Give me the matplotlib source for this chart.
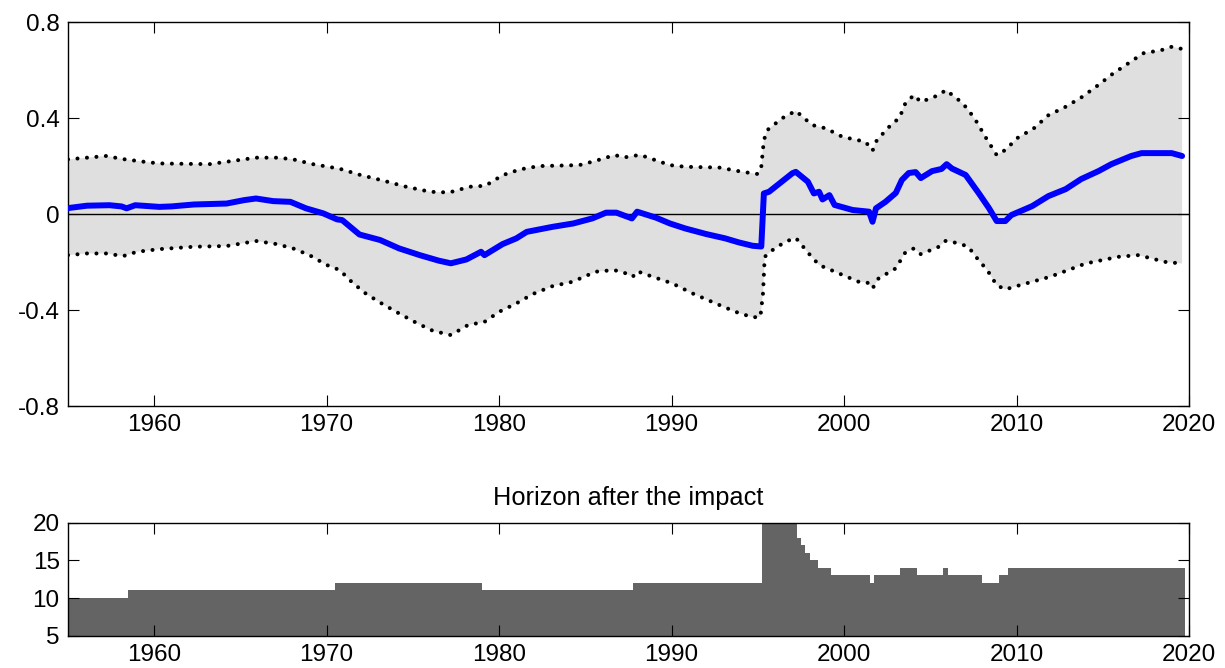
import matplotlib
matplotlib.use("Agg")
import matplotlib.pyplot as plt
import numpy as np

plt.rcParams["font.family"] = ["Liberation Sans", "DejaVu Sans"]
plt.rcParams["axes.unicode_minus"] = False

# ---- top panel: median response and band (year, value) ----
med_x = [1955.0, 1956.1, 1957.4, 1958.1, 1958.4, 1958.9, 1960.3, 1961.0, 1962.3, 1964.2,
         1965.2, 1965.9, 1966.9, 1967.9, 1968.8, 1969.8, 1970.6, 1970.9, 1971.9, 1973.1,
         1974.2, 1975.4, 1976.5, 1977.2, 1978.1, 1978.95, 1979.15, 1980.2, 1981.0, 1981.6,
         1983.1, 1984.3, 1985.4, 1986.2, 1986.8, 1987.7, 1988.0, 1989.1, 1989.9, 1990.8,
         1992.0, 1993.1, 1993.9, 1994.7, 1995.2, 1995.35, 1995.65, 1997.0, 1997.2, 1997.9,
         1998.25, 1998.55, 1998.75, 1999.15, 1999.45, 2000.5, 2001.45, 2001.65, 2001.85, 2002.4,
         2003.0, 2003.35, 2003.75, 2004.15, 2004.45, 2005.1, 2005.65, 2005.95, 2006.25, 2007.05,
         2007.8, 2008.4, 2008.85, 2009.35, 2009.7, 2010.9, 2011.85, 2012.85, 2013.75, 2014.75,
         2015.5, 2016.65, 2017.25, 2018.25, 2019.0, 2019.6]
med_y = [0.025, 0.035, 0.037, 0.032, 0.024, 0.037, 0.030, 0.032, 0.040, 0.044,
         0.058, 0.065, 0.054, 0.051, 0.024, 0.003, -0.022, -0.025, -0.085, -0.108,
         -0.143, -0.171, -0.194, -0.205, -0.189, -0.157, -0.171, -0.125, -0.101, -0.074,
         -0.053, -0.039, -0.018, 0.006, 0.006, -0.018, 0.010, -0.015, -0.039, -0.060,
         -0.083, -0.101, -0.118, -0.132, -0.135, 0.086, 0.093, 0.170, 0.176, 0.135,
         0.086, 0.093, 0.061, 0.079, 0.038, 0.017, 0.010, -0.032, 0.024, 0.051,
         0.088, 0.142, 0.171, 0.175, 0.150, 0.179, 0.188, 0.208, 0.190, 0.163,
         0.088, 0.025, -0.029, -0.029, -0.004, 0.033, 0.075, 0.104, 0.146, 0.179,
         0.208, 0.242, 0.254, 0.254, 0.254, 0.242]

up_x = [1955.0, 1957.2, 1958.2, 1959.4, 1960.3, 1963.2, 1964.6, 1965.9, 1967.1, 1968.0,
        1969.2, 1970.75, 1971.9, 1973.3, 1974.6, 1976.0, 1977.1, 1978.3, 1979.2, 1980.2,
        1981.2, 1982.3, 1984.65, 1985.6, 1986.7, 1987.25, 1987.8, 1988.2, 1989.9, 1990.8,
        1992.75, 1994.1, 1995.0, 1995.2, 1995.35, 1995.55, 1996.4, 1997.2, 1998.15, 1998.95,
        1999.9, 2001.25, 2001.65, 2001.9, 2002.8, 2003.2, 2003.55, 2004.05, 2004.45, 2005.5,
        2005.9, 2006.65, 2007.15, 2007.7, 2008.2, 2008.85, 2009.35, 2010.05, 2011.0, 2011.85,
        2012.85, 2013.8, 2014.75, 2015.55, 2016.5, 2017.35, 2018.4, 2019.0, 2019.6]
up_y = [0.228, 0.242, 0.229, 0.218, 0.211, 0.208, 0.222, 0.235, 0.235, 0.229,
        0.208, 0.189, 0.164, 0.139, 0.114, 0.093, 0.090, 0.114, 0.118, 0.162,
        0.186, 0.200, 0.204, 0.222, 0.246, 0.236, 0.243, 0.246, 0.204, 0.197,
        0.194, 0.176, 0.167, 0.197, 0.308, 0.350, 0.399, 0.430, 0.371, 0.357,
        0.322, 0.301, 0.264, 0.308, 0.378, 0.399, 0.461, 0.496, 0.467, 0.496,
        0.517, 0.475, 0.440, 0.383, 0.321, 0.246, 0.267, 0.317, 0.357, 0.412,
        0.447, 0.488, 0.538, 0.583, 0.629, 0.670, 0.683, 0.697, 0.688]

lo_x = [1955.0, 1956.1, 1957.2, 1958.2, 1959.0, 1960.3, 1962.3, 1964.2, 1965.35, 1965.9,
        1967.1, 1968.05, 1969.0, 1970.0, 1970.75, 1971.5, 1972.3, 1973.25, 1974.2, 1975.2,
        1976.15, 1977.2, 1978.2, 1979.15, 1980.0, 1981.0, 1981.95, 1983.1, 1984.25, 1985.6,
        1986.65, 1987.25, 1987.75, 1988.0, 1988.9, 1990.05, 1991.2, 1992.55, 1993.7, 1994.7,
        1995.15, 1995.3, 1995.4, 1995.85, 1996.6, 1997.2, 1997.95, 1998.55, 1999.7, 2000.85,
        2001.35, 2001.65, 2002.0, 2003.0, 2003.55, 2004.05, 2004.45, 2005.5, 2005.9, 2006.65,
        2007.2, 2007.8, 2008.3, 2008.85, 2009.35, 2009.85, 2010.9, 2011.95, 2013.0, 2014.0,
        2014.95, 2015.9, 2017.05, 2017.85, 2018.6, 2019.6]
lo_y = [-0.171, -0.164, -0.164, -0.175, -0.157, -0.146, -0.136, -0.133, -0.119, -0.112,
        -0.125, -0.143, -0.171, -0.212, -0.233, -0.286, -0.333, -0.375, -0.414, -0.453,
        -0.486, -0.504, -0.462, -0.449, -0.407, -0.372, -0.333, -0.300, -0.282, -0.240,
        -0.233, -0.244, -0.261, -0.238, -0.261, -0.289, -0.330, -0.372, -0.407, -0.430,
        -0.428, -0.330, -0.178, -0.150, -0.115, -0.099, -0.164, -0.212, -0.247, -0.282,
        -0.285, -0.310, -0.268, -0.226, -0.160, -0.143, -0.167, -0.136, -0.111, -0.122,
        -0.136, -0.192, -0.233, -0.296, -0.314, -0.303, -0.282, -0.261, -0.233, -0.206,
        -0.192, -0.178, -0.171, -0.185, -0.199, -0.206]

# ---- bottom panel: horizon after the impact, quarterly, one row per year from 1955 ----
horizon = [
    [10, 10, 10, 10], [10, 10, 10, 10], [10, 10, 10, 10], [10, 10, 11, 11],  # 1955-58
    [11, 11, 11, 11], [11, 11, 11, 11], [11, 11, 11, 11], [11, 11, 11, 11],  # 1959-62
    [11, 11, 11, 11], [11, 11, 11, 11], [11, 11, 11, 11], [11, 11, 11, 11],  # 1963-66
    [11, 11, 11, 11], [11, 11, 11, 11], [11, 11, 11, 11], [11, 11, 12, 12],  # 1967-70
    [12, 12, 12, 12], [12, 12, 12, 12], [12, 12, 12, 12], [12, 12, 12, 12],  # 1971-74
    [12, 12, 12, 12], [12, 12, 12, 12], [12, 12, 12, 12], [12, 12, 12, 12],  # 1975-78
    [11, 11, 11, 11], [11, 11, 11, 11], [11, 11, 11, 11], [11, 11, 11, 11],  # 1979-82
    [11, 11, 11, 11], [11, 11, 11, 11], [11, 11, 11, 11], [11, 11, 11, 11],  # 1983-86
    [11, 11, 11, 12], [12, 12, 12, 12], [12, 12, 12, 12], [12, 12, 12, 12],  # 1987-90
    [12, 12, 12, 12], [12, 12, 12, 12], [12, 12, 12, 12], [12, 12, 12, 12],  # 1991-94
    [12, 20, 20, 20], [20, 20, 20, 20], [20, 18, 17, 16], [15, 15, 14, 14],  # 1995-98
    [14, 13, 13, 13], [13, 13, 13, 13], [13, 13, 12, 13], [13, 13, 13, 13],  # 1999-02
    [13, 14, 14, 14], [14, 13, 13, 13], [13, 13, 13, 14], [13, 13, 13, 13],  # 2003-06
    [13, 13, 13, 13], [12, 12, 12, 12], [13, 13, 14, 14], [14, 14, 14, 14],  # 2007-10
    [14, 14, 14, 14], [14, 14, 14, 14], [14, 14, 14, 14], [14, 14, 14, 14],  # 2011-14
    [14, 14, 14, 14], [14, 14, 14, 14], [14, 14, 14, 14], [14, 14, 14, 14],  # 2015-18
    [14, 14, 14],                                                            # 2019
]
first_year = 1955

xticks = [1960, 1970, 1980, 1990, 2000, 2010, 2020]
yticks_top = [-0.8, -0.4, 0, 0.4, 0.8]
ylabels_top = ["-0.8", "-0.4", "0", "0.4", "0.8"]
yticks_bot = [5, 10, 15, 20]

FS = 17.5

fig = plt.figure(figsize=(12.25, 6.68), dpi=100)
ax = fig.add_axes([0.0555, 0.392, 0.9151, 0.575])
ax2 = fig.add_axes([0.0555, 0.0484, 0.9151, 0.1691])

# top panel
ax.fill(np.concatenate([up_x, lo_x[::-1]]), np.concatenate([up_y, lo_y[::-1]]),
        color="#dfdfdf", lw=0, zorder=1)
ax.axhline(0, color="black", lw=1.0, zorder=2)
dots = dict(color="black", lw=2.9, linestyle=(0, (0.01, 2.35)), dash_capstyle="round", zorder=3)
ax.plot(up_x, up_y, **dots)
ax.plot(lo_x, lo_y, **dots)
ax.plot(med_x, med_y, color="#0000ff", lw=4.3, solid_capstyle="round",
        solid_joinstyle="round", zorder=4)
ax.set_xlim(1955, 2020)
ax.set_ylim(-0.8, 0.8)
ax.set_yticks(yticks_top)
ax.set_yticklabels(ylabels_top)

# bottom panel
vals = [v for row in horizon for v in row]
qx = [first_year + i * 0.25 for i in range(len(vals))]
ax2.bar(qx, vals, width=0.25, align="edge", color="#646464", lw=0)
ax2.set_xlim(1955, 2020)
ax2.set_ylim(5, 20)
ax2.set_yticks(yticks_bot)
ax2.set_title("Horizon after the impact", fontsize=18.3, pad=13)

for a in (ax, ax2):
    a.set_xticks(xticks)
    a.tick_params(direction="in", length=8, width=0.8, top=True, right=True,
                  labelsize=FS, pad=6)
    for s in a.spines.values():
        s.set_linewidth(1.0)

fig.savefig("out.png", dpi=100)
